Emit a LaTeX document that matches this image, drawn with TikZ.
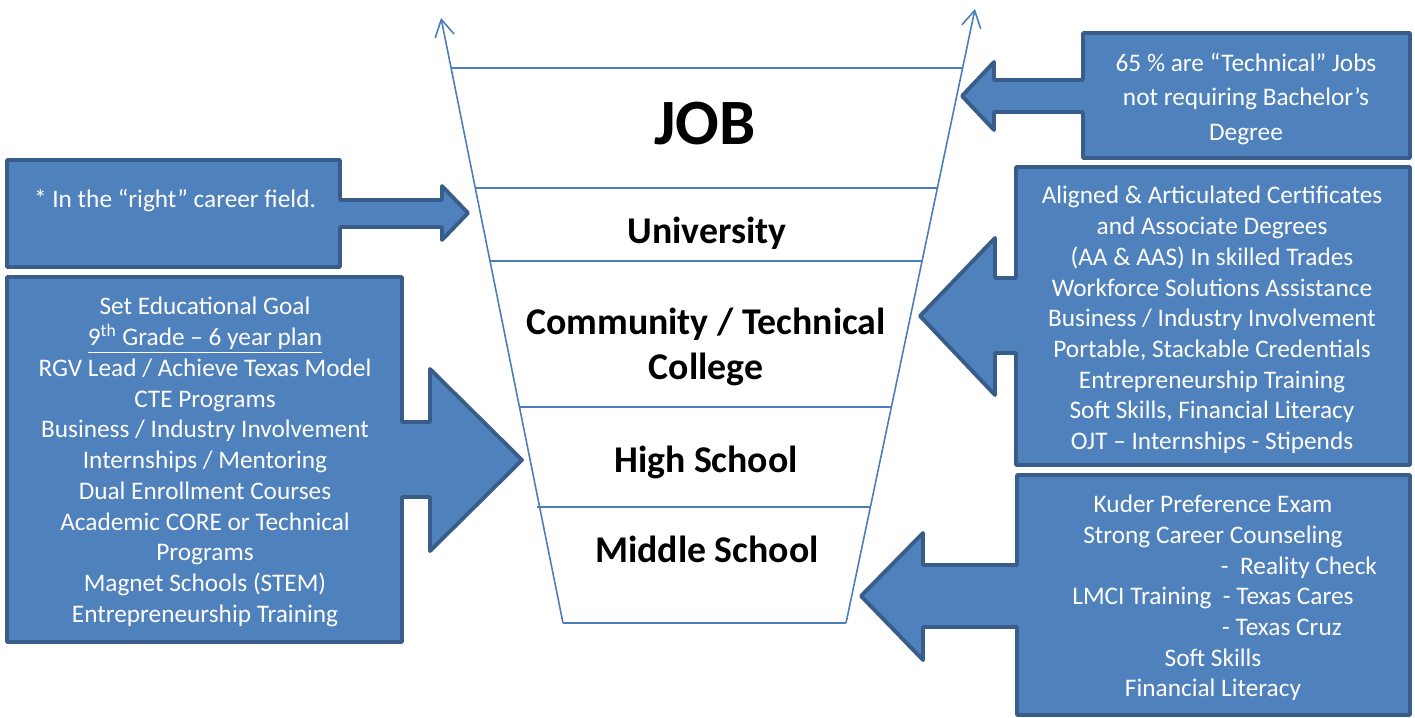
\documentclass[tikz,border=0pt]{standalone}
\usepackage{fontspec}
\setmainfont{Carlito}
\usetikzlibrary{arrows.meta}
\definecolor{calloutfill}{HTML}{4F81BD}
\definecolor{calloutline}{HTML}{385D8A}
\definecolor{funnelblue}{HTML}{4A7EBB}
\begin{document}
\begin{tikzpicture}[x=0.02cm, y=-0.02cm,
    callout/.style={fill=calloutfill, draw=calloutline, line width=2.2pt, line join=round},
    funnel/.style={draw=funnelblue, line width=0.9pt},
    level/.style={font=\bfseries\fontsize{21.5}{26}\selectfont, align=center},
    info/.style={text=white, align=center, font=\fontsize{14.4}{17.5}\selectfont}]
  \useasboundingbox (0,0) rectangle (1415,717);

  % funnel
  \coordinate (lbot) at (563,623);
  \coordinate (ltop) at (441,18);
  \coordinate (rbot) at (846,623);
  \coordinate (rtop) at (975,9);
  \draw[funnel, -{Straight Barb[length=9.5pt, width=11pt]}] (lbot) -- (ltop);
  \draw[funnel, -{Straight Barb[length=9.5pt, width=11pt]}] (rbot) -- (rtop);
  \draw[funnel] (451,68) -- (963,68);
  \draw[funnel] (475,188) -- (937,188);
  \draw[funnel] (490,261) -- (922,261);
  \draw[funnel] (519,407) -- (891,407);
  \draw[funnel] (537,507) -- (870,507);
  \draw[funnel] (lbot) -- (rbot);

  \node[level, font=\bfseries\fontsize{36.8}{44}\selectfont, anchor=base] (job) at (705,144) {JOB};
  \node[level, anchor=base] (univ) at (707,243) {University};
  \node[level] (college) at (706,347) {Community / Technical\\College};
  \node[level, anchor=base] (high) at (706,472) {High School};
  \node[level, anchor=base] (middle) at (707,562) {Middle School};

  % left callouts
  \draw[callout] (7,160) -- (340,160) -- (340,200) -- (442,200) -- (442,186) -- (468,213)
    -- (442,240) -- (442,227) -- (340,227) -- (340,267) -- (7,267) -- cycle;
  \node[info, anchor=base] (fieldtxt) at (175,207) {* In the “right” career field.};

  \draw[callout] (7,277) -- (402,277) -- (402,422) -- (430,422) -- (430,369) -- (522,460)
    -- (430,551) -- (430,497) -- (402,497) -- (402,642) -- (7,642) -- cycle;
  \node[info] (goaltxt) at (205,462) {Set Educational Goal\\
    \underline{9\textsuperscript{th} Grade – 6 year plan}\\
    RGV Lead / Achieve Texas Model\\
    CTE Programs\\
    Business / Industry Involvement\\
    Internships / Mentoring\\
    Dual Enrollment Courses\\
    Academic CORE or Technical\\
    Programs\\
    Magnet Schools (STEM)\\
    Entrepreneurship Training};

  % right callouts
  \draw[callout] (1410,33) -- (1083,33) -- (1083,80) -- (994,80) -- (994,62) -- (962,96)
    -- (994,130) -- (994,112) -- (1083,112) -- (1083,158) -- (1410,158) -- cycle;
  \node[info, font=\fontsize{14.4}{19.8}\selectfont] (techtxt) at (1246,99)
    {65 \% are “Technical” Jobs\\not requiring Bachelor’s\\Degree};

  \draw[callout] (1410,167) -- (1016,167) -- (1016,278) -- (995,278) -- (995,238) -- (920,316)
    -- (995,395) -- (995,353) -- (1016,353) -- (1016,465) -- (1410,465) -- cycle;
  \node[info] (certtxt) at (1212,320) {Aligned \& Articulated Certificates\\
    and Associate Degrees\\
    (AA \& AAS) In skilled Trades\\
    Workforce Solutions Assistance\\
    Business / Industry Involvement\\
    Portable, Stackable Credentials\\
    Entrepreneurship Training\\
    Soft Skills, Financial Literacy\\
    OJT – Internships - Stipends};

  \draw[callout] (1410,475) -- (1017,475) -- (1017,565) -- (923,565) -- (923,533) -- (861,596)
    -- (923,660) -- (923,627) -- (1017,627) -- (1017,715) -- (1410,715) -- cycle;
  \node[info] (kudertxt) at (1213,598) {Kuder Preference Exam\\
    Strong Career Counseling\\
    \hspace*{3.44cm}-\ \ Reality Check\\
    LMCI Training\ \ - Texas Cares\\
    \hspace*{2.76cm}- Texas Cruz\\
    Soft Skills\\
    Financial Literacy};
\end{tikzpicture}
\end{document}
